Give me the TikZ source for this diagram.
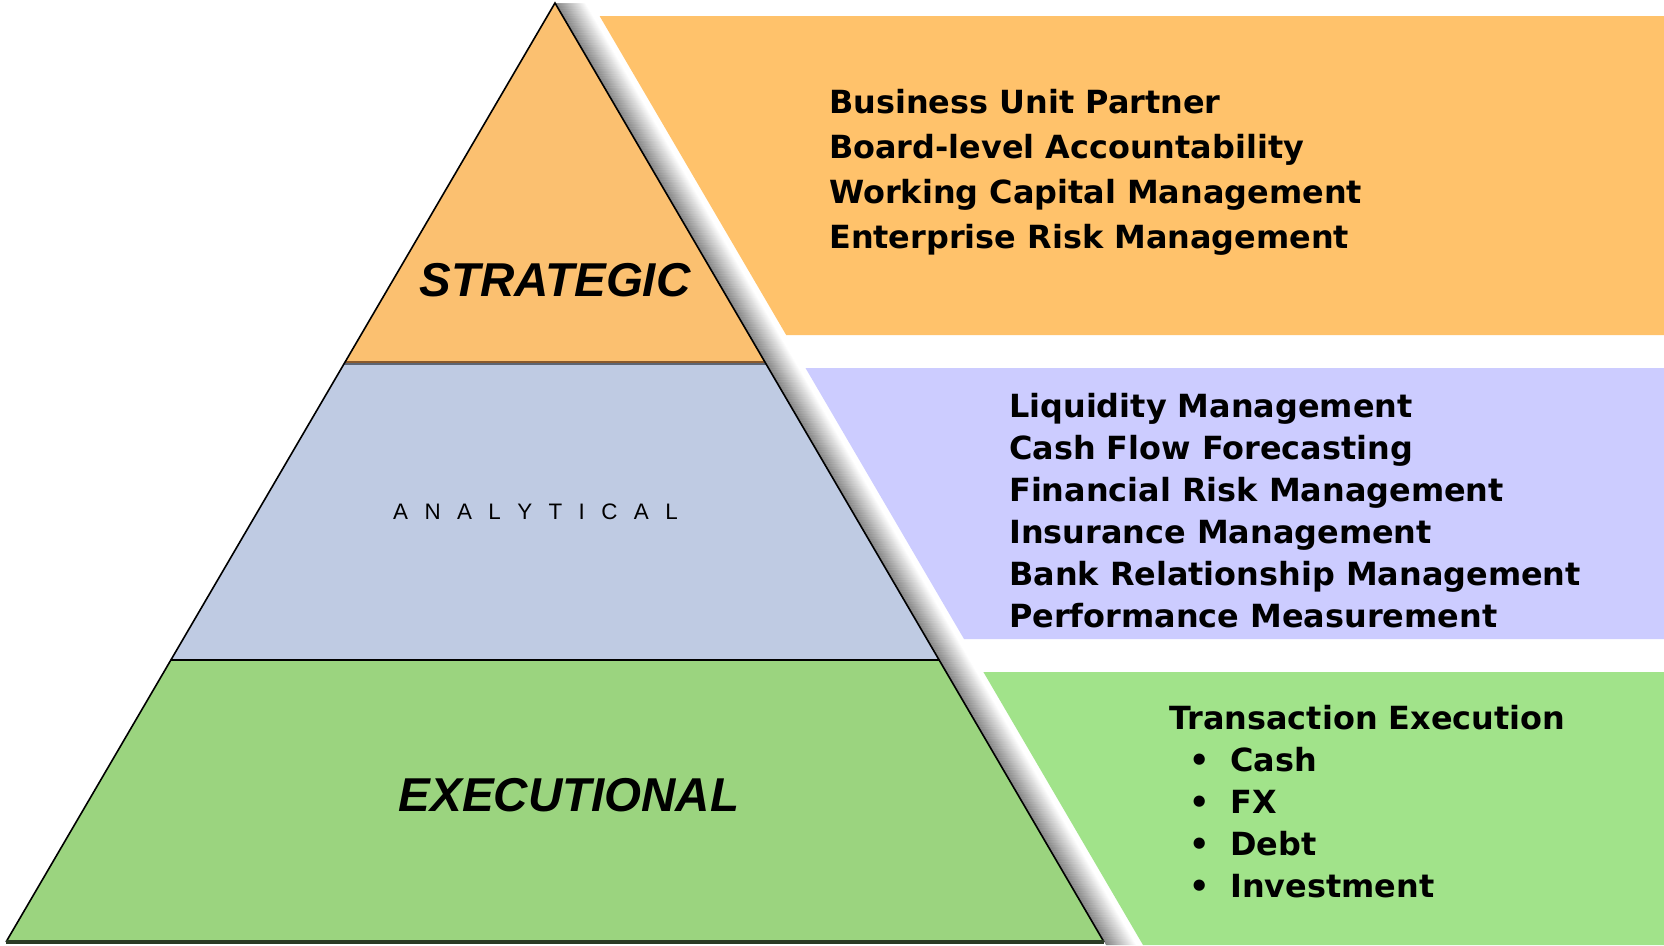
\documentclass[tikz,border=0pt]{standalone}
\usepackage{fontspec}
\setmainfont{DejaVu Sans}
\newfontfamily\arialfont{Liberation Sans}
\definecolor{pyrorange}{HTML}{FBC070}
\definecolor{pyrblue}{HTML}{BFCBE3}
\definecolor{pyrgreen}{HTML}{9BD47F}
\definecolor{panorange}{HTML}{FFC26B}
\definecolor{panblue}{HTML}{CCCCFF}
\definecolor{pangreen}{HTML}{A1E38A}
\definecolor{brownline}{HTML}{8A5A2C}
\definecolor{slateline}{HTML}{5D6573}
\definecolor{baseline}{HTML}{2B3A24}
\begin{document}
\begin{tikzpicture}[x=1pt,y=-1pt,
  itemtext/.style={anchor=base west, inner sep=0pt, font=\fontsize{31.9}{36}\selectfont\bfseries},
  bulletmark/.style={anchor=base, inner sep=0pt, font=\fontsize{31.9}{36}\selectfont\bfseries},
  levellabel/.style={anchor=base, inner sep=0pt, font=\arialfont\fontsize{47.5}{50}\selectfont\bfseries\itshape},
  smalllabel/.style={anchor=base west, inner sep=0pt, font=\arialfont\fontsize{22.4}{26}\selectfont},
  edgeline/.style={draw=black, line width=1.6pt, line join=miter}
]
\useasboundingbox (0,0) rectangle (1664,945);
\fill[white] (0,0) rectangle (1664,945);

% shadow band to the right of the pyramid
\foreach \i in {0,...,36} {
  \pgfmathsetmacro{\g}{max(0,48-\i*48/30)}
  \fill[black!\g] ({555+\i},3) -- ({1106.1+\i},945) -- ({1107.4+\i},945) -- ({556.3+\i},3) -- cycle;
}

% right-hand panels
\fill[panorange] (599.6,16) -- (1664,16) -- (1664,335) -- (786.2,335) -- cycle;
\fill[panblue] (805.5,368) -- (1664,368) -- (1664,639) -- (964,639) -- cycle;
\fill[pangreen] (983.4,672) -- (1664,672) -- (1664,945) -- (1143,945) -- cycle;

% pyramid layers
\begin{scope}
  \clip (555,3) -- (1104,942) -- (6,942) -- cycle;
  \fill[pyrorange] (0,0) rectangle (1664,362);
  \fill[pyrblue] (0,362) rectangle (1664,660);
  \fill[pyrgreen] (0,660) rectangle (1664,945);
  \fill[brownline] (0,360.8) rectangle (1664,362.8);
  \fill[slateline] (0,362.8) rectangle (1664,365.2);
  \fill[black] (0,658.8) rectangle (1664,660.8);
\end{scope}
\draw[edgeline] (6,942) -- (555,3) -- (1104,942);
\draw[draw=baseline, line width=3.5pt] (6,942) -- (1104,942);

% pyramid labels
\node[levellabel] (strategic) at (555,296) {STRATEGIC};
\node[smalllabel] (analytical) at (393,519) {A\kern16.4pt N\kern16.4pt A\kern16.4pt L\kern16.4pt Y\kern16.4pt T\kern16.4pt I\kern16.4pt C\kern16.4pt A\kern16.4pt L};
\node[levellabel] (executional) at (569,811) {EXECUTIONAL};

% strategic items
\node[itemtext] (s1) at (829,113) {Business Unit Partner};
\node[itemtext] (s2) at (829,158) {Board-level Accountability};
\node[itemtext] (s3) at (829,203) {Working Capital Management};
\node[itemtext] (s4) at (829,248) {Enterprise Risk Management};

% analytical items
\node[itemtext] (a1) at (1009,417) {Liquidity Management};
\node[itemtext] (a2) at (1009,459) {Cash Flow Forecasting};
\node[itemtext] (a3) at (1009,501) {Financial Risk Management};
\node[itemtext] (a4) at (1009,543) {Insurance Management};
\node[itemtext] (a5) at (1009,585) {Bank Relationship Management};
\node[itemtext] (a6) at (1009,627) {Performance Measurement};

% executional items
\node[itemtext] (e0) at (1169,729) {Transaction Execution};
\node[bulletmark] (b1) at (1200,771) {•};
\node[itemtext] (e1) at (1230,771) {Cash};
\node[bulletmark] (b2) at (1200,813) {•};
\node[itemtext] (e2) at (1230,813) {FX};
\node[bulletmark] (b3) at (1200,855) {•};
\node[itemtext] (e3) at (1230,855) {Debt};
\node[bulletmark] (b4) at (1200,897) {•};
\node[itemtext] (e4) at (1230,897) {Investment};
\end{tikzpicture}
\end{document}
